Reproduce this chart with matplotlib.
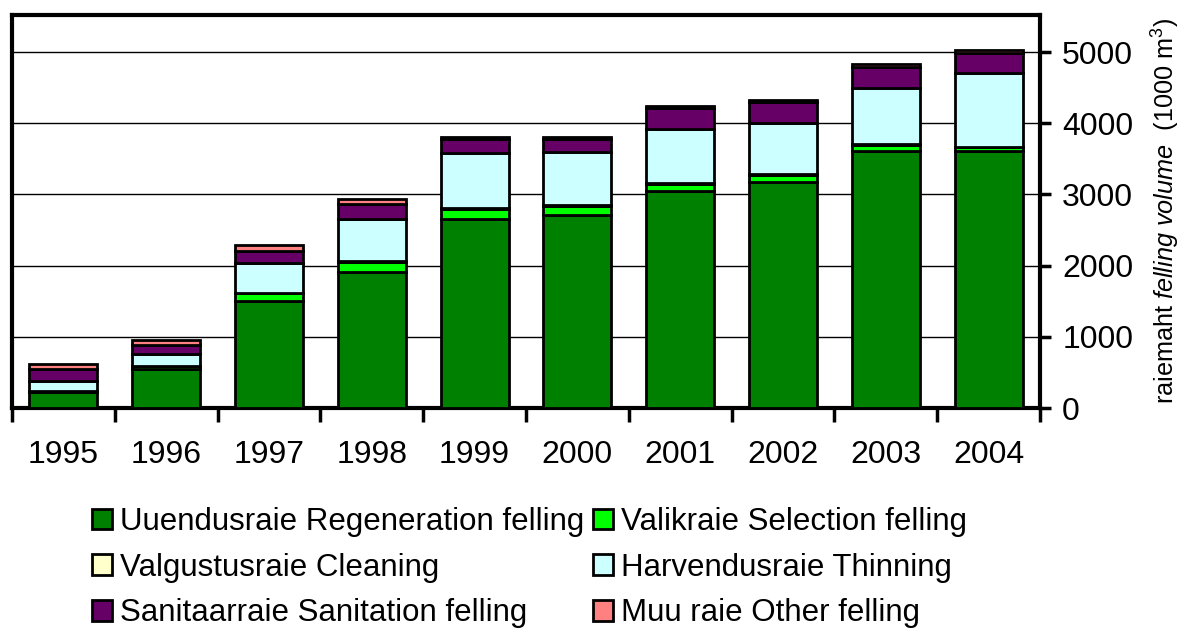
import matplotlib
matplotlib.use("Agg")
import matplotlib.pyplot as plt
import numpy as np

plt.rcParams['font.family'] = ['Liberation Sans', 'DejaVu Sans']
plt.rcParams['mathtext.fontset'] = 'custom'
plt.rcParams['mathtext.rm'] = 'Liberation Sans'
plt.rcParams['mathtext.it'] = 'Liberation Sans:italic'

years = ['1995', '1996', '1997', '1998', '1999', '2000', '2001', '2002', '2003', '2004']
regeneration = [225, 548, 1500, 1910, 2655, 2710, 3050, 3175, 3615, 3610]
selection = [10, 35, 110, 140, 140, 125, 100, 100, 80, 50]
cleaning = [5, 5, 10, 10, 10, 10, 10, 10, 10, 10]
thinning = [140, 170, 420, 600, 770, 745, 760, 715, 785, 1040]
sanitation = [165, 125, 170, 210, 200, 195, 300, 300, 295, 280]
other = [70, 70, 85, 70, 30, 25, 15, 25, 40, 45]

labels = ['Uuendusraie Regeneration felling', 'Valikraie Selection felling',
          'Valgustusraie Cleaning', 'Harvendusraie Thinning',
          'Sanitaarraie Sanitation felling', 'Muu raie Other felling']
colors = ['#008000', '#00FF00', '#FFFFCC', '#CCFFFF', '#660066', '#FF8080']
series = [regeneration, selection, cleaning, thinning, sanitation, other]

fig = plt.figure(figsize=(11.82, 6.31), dpi=100)
ax = fig.add_axes([12/1182, 1-408/631, (1040-12)/1182, (408-15)/631])

x = np.arange(len(years))
bottom = np.zeros(len(years))
handles = []
for vals, c, lab in zip(series, colors, labels):
    h = ax.bar(x, vals, width=0.66, bottom=bottom, color=c, edgecolor='black',
               linewidth=2.0, label=lab, zorder=3)
    handles.append(h)
    bottom += np.array(vals)

ax.set_xlim(-0.5, len(years) - 0.5)
ax.set_ylim(0, 5520)
ax.set_yticks([0, 1000, 2000, 3000, 4000, 5000])
ax.yaxis.tick_right()
ax.yaxis.set_label_position('right')
ax.tick_params(axis='y', direction='out', length=8, width=2.5, labelsize=23, pad=8)
ax.grid(axis='y', color='black', linewidth=1.0, zorder=0)

ax.set_xticks(x)
ax.set_xticklabels(years)
ax.set_xticks(np.arange(-0.5, len(years) + 0.5, 1), minor=True)
ax.tick_params(axis='x', which='major', length=0, labelsize=23, pad=23)
ax.tick_params(axis='x', which='minor', direction='out', length=10, width=2.5)

for s in ax.spines.values():
    s.set_linewidth(3)
    s.set_color('black')

ax.set_ylabel(r'raiemaht $\mathit{felling\ volume}$  (1000 m$^3$)', fontsize=18.2, labelpad=12)

order = [0, 2, 4, 1, 3, 5]
leg = fig.legend([handles[i] for i in order], [labels[i] for i in order],
                 ncol=2, loc='upper left', bbox_to_anchor=(92/1182, 1-507/631),
                 frameon=False, fontsize=22.5, handlelength=0.65, handleheight=0.65,
                 handletextpad=0.26, columnspacing=0.26, labelspacing=0.5,
                 borderaxespad=0, borderpad=0)

fig.savefig('out.png', dpi=100)
